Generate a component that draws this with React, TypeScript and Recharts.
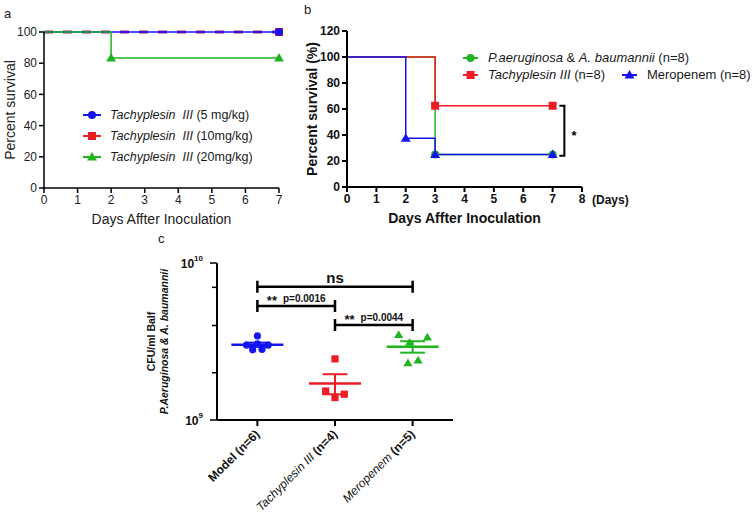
import React from "react"
import {
    Legend,
    Line,
    LineChart,
    ReferenceLine,
    Scatter,
    ScatterChart,
    XAxis,
    YAxis,
} from "recharts"

const FONT = "'Liberation Sans', Arial, Helvetica, sans-serif"
const BLUE = "#1414ee"
const RED = "#ee1c24"
const GREEN = "#21b421"
const PURPLE = "#a3197f"
const INK = "#1a1a1a"

// panel a - dose comparison
const daysA = [0, 1, 2, 3, 4, 5, 6, 7]
const survivalTicksA = [0, 20, 40, 60, 80, 100]
const dose5 = [{ day: 0, pct: 100 }, { day: 7, pct: 100 }]
const dose10 = [{ day: 0, pct: 100 }, { day: 7, pct: 100 }]
const dose20 = [{ day: 0, pct: 100 }, { day: 2, pct: 83.3 }, { day: 7, pct: 83.3 }]
const doseLabels = ["(5 mg/kg)", "(10mg/kg)", "(20mg/kg)"]

// panel b - infection model survival
const daysB = [0, 1, 2, 3, 4, 5, 6, 7, 8]
const survivalTicksB = [0, 20, 40, 60, 80, 100, 120]
const infected = [{ day: 0, pct: 100 }, { day: 3, pct: 25 }, { day: 7, pct: 25 }]
const tachyplesin = [{ day: 0, pct: 100 }, { day: 3, pct: 62.5 }, { day: 7, pct: 62.5 }]
const meropenem = [{ day: 0, pct: 100 }, { day: 2, pct: 37.5 }, { day: 3, pct: 25 }, { day: 7, pct: 25 }]
const miceB = 8
const sigB = { day: 7.4, top: 62.5, bottom: 24, text: "*" }

// panel c - bacterial load (x = jittered group position)
const groupNames = ["Model", "Tachyplesin III", "Meropenem"]
const modelCfu = [
    { x: 1.0, cfu: 3.43e9 },
    { x: 0.94, cfu: 2.8e9 },
    { x: 1.06, cfu: 2.82e9 },
    { x: 0.86, cfu: 3.0e9 },
    { x: 1.14, cfu: 3.0e9 },
    { x: 1.0, cfu: 3.05e9 },
]
const tachyCfu = [
    { x: 2.0, cfu: 2.45e9 },
    { x: 1.88, cfu: 1.53e9 },
    { x: 2.0, cfu: 1.39e9 },
    { x: 2.12, cfu: 1.46e9 },
]
const meroCfu = [
    { x: 2.82, cfu: 3.48e9 },
    { x: 3.19, cfu: 3.36e9 },
    { x: 2.96, cfu: 3.11e9 },
    { x: 2.94, cfu: 2.3e9 },
    { x: 3.07, cfu: 2.4e9 },
]
const cfuTicks = [1e9, 2e9, 3e9, 4e9, 5e9, 6e9, 7e9, 8e9, 9e9, 1e10]
const comparisons = [
    { from: 1, to: 3, cfu: 7.06e9, stars: "", p: "ns" },
    { from: 1, to: 2, cfu: 5.32e9, stars: "**", p: "p=0.0016" },
    { from: 2, to: 3, cfu: 4.03e9, stars: "**", p: "p=0.0044" },
]

type Kind = "circle" | "square" | "triangle"

const Marker = ({ kind, cx, cy, color, r = 4 }: { kind: Kind; cx: number; cy: number; color: string; r?: number }) => {
    if (kind === "circle") return <circle cx={cx} cy={cy} r={r} fill={color} />
    if (kind === "square") return <rect x={cx - r} y={cy - r} width={2 * r} height={2 * r} fill={color} />
    return <polygon points={`${cx},${cy - r - 1} ${cx - r - 1},${cy + r - 0.5} ${cx + r + 1},${cy + r - 0.5}`} fill={color} />
}

// Kaplan-Meier style: no marker at the starting point
const stepDot = (kind: Kind, color: string) => (props: any) => {
    const { cx, cy, index } = props
    if (index === 0 || cx == null || cy == null) return <g key={`d${index}`} />
    return (
        <g key={`d${index}`}>
            <Marker kind={kind} cx={cx} cy={cy} color={color} />
        </g>
    )
}

const LegendKey = ({ kind, color, w }: { kind: Kind; color: string; w: number }) => (
    <svg width={w} height={12} style={{ flex: "none" }}>
        <line x1={1} x2={w - 1} y1={6} y2={6} stroke={color} strokeWidth={2} />
        <Marker kind={kind} cx={w / 2} cy={6} color={color} />
    </svg>
)

const Tachy = ({ gap = " " }: { gap?: string }) => (
    <span style={{ fontStyle: "italic" }}>{`Tachyplesin${gap}III`}</span>
)

const legendA = () => {
    const keys: { kind: Kind; color: string }[] = [
        { kind: "circle", color: BLUE },
        { kind: "square", color: RED },
        { kind: "triangle", color: GREEN },
    ]
    return (
        <div style={{ fontFamily: FONT, fontSize: 12.5, color: INK }}>
            {keys.map((k, i) => (
                <div key={i} style={{ display: "flex", alignItems: "center", height: 21, whiteSpace: "pre" }}>
                    <LegendKey kind={k.kind} color={k.color} w={20} />
                    <span style={{ marginLeft: 8 }}>
                        <Tachy gap={"\u00a0\u00a0"} /> {doseLabels[i]}
                    </span>
                </div>
            ))}
        </div>
    )
}

const legendB = () => (
    <div style={{ fontFamily: FONT, fontSize: 13, color: INK, whiteSpace: "pre" }}>
        <div style={{ display: "flex", alignItems: "center", height: 17 }}>
            <LegendKey kind="circle" color={GREEN} w={17} />
            <span style={{ marginLeft: 9 }}>
                <i>P.aeruginosa</i> &amp; <i>A. baumannii</i> (n={miceB})
            </span>
        </div>
        <div style={{ display: "flex", alignItems: "center", height: 17 }}>
            <LegendKey kind="square" color={RED} w={17} />
            <span style={{ marginLeft: 9 }}>
                <Tachy /> (n={miceB})
            </span>
            <span style={{ marginLeft: 16 }} />
            <LegendKey kind="triangle" color={BLUE} w={17} />
            <span style={{ marginLeft: 9 }}>Meropenem (n={miceB})</span>
        </div>
    </div>
)

const sigBracketB = (p: any) => {
    const { x1, y1, y2 } = p
    return (
        <g>
            <path d={`M${x1 - 5},${y1}H${x1}V${y2}H${x1 - 5}`} stroke="#000" strokeWidth={2} fill="none" />
            <text x={x1 + 7} y={(y1 + y2) / 2 + 9} fontFamily={FONT} fontWeight="bold" fontSize={13} fill="#000">
                {sigB.text}
            </text>
        </g>
    )
}

const titleB = (props: any) => {
    const vb = props.viewBox ?? { x: 47, y: 187, width: 235, height: 38 }
    return (
        <g fontFamily={FONT} fontWeight="bold" fill="#111">
            <text x={vb.x + vb.width / 2} y={vb.y + 36} textAnchor="middle" fontSize={14}>
                Days Affter Inoculation
            </text>
            <text x={vb.x + vb.width + 10} y={vb.y + 17} fontSize={12}>
                (Days)
            </text>
        </g>
    )
}

const PanelA = () => (
    <LineChart width={300} height={230} margin={{ top: 32, right: 21, left: 0, bottom: 6 }}>
        <XAxis
            type="number"
            dataKey="day"
            domain={[0, 7]}
            ticks={daysA}
            height={36}
            tickSize={5}
            stroke="#000"
            strokeWidth={1.5}
            tick={{ fill: "#222", fontSize: 12, fontFamily: FONT }}
            label={{ value: "Days Affter Inoculation", position: "insideBottom", offset: 0, fill: "#222", fontSize: 14, fontFamily: FONT }}
        />
        <YAxis
            type="number"
            dataKey="pct"
            domain={[0, 100]}
            ticks={survivalTicksA}
            width={44}
            tickSize={5}
            stroke="#000"
            strokeWidth={1.5}
            tick={{ fill: "#222", fontSize: 12, fontFamily: FONT }}
            label={{
                value: "Percent survival",
                angle: -90,
                position: "insideLeft",
                offset: 10,
                fill: "#222",
                fontSize: 14,
                fontFamily: FONT,
                style: { textAnchor: "middle" },
            }}
        />
        <Line data={dose10} dataKey="pct" type="stepAfter" stroke={PURPLE} strokeWidth={3} strokeDasharray="9 10"
            dot={stepDot("square", RED)} activeDot={false} isAnimationActive={false} />
        <Line data={dose5} dataKey="pct" type="stepAfter" stroke={BLUE} strokeWidth={1.3}
            dot={stepDot("circle", BLUE)} activeDot={false} isAnimationActive={false} />
        <Line data={dose20} dataKey="pct" type="stepAfter" stroke={GREEN} strokeWidth={1.5}
            dot={stepDot("triangle", GREEN)} activeDot={false} isAnimationActive={false} />
        <Legend layout="horizontal" align="center" verticalAlign="middle" content={legendA}
            wrapperStyle={{ left: 82, top: 104, width: "auto" }} />
    </LineChart>
)

const PanelB = () => (
    <LineChart width={456} height={230} margin={{ top: 31, right: 174, left: 0, bottom: 5 }}>
        <XAxis
            type="number"
            dataKey="day"
            domain={[0, 8]}
            ticks={daysB}
            height={38}
            tickSize={5}
            stroke="#000"
            strokeWidth={2}
            tick={{ fill: "#111", fontSize: 12, fontWeight: "bold", fontFamily: FONT }}
            label={{ content: titleB }}
        />
        <YAxis
            type="number"
            dataKey="pct"
            domain={[0, 120]}
            ticks={survivalTicksB}
            width={47}
            tickSize={5}
            stroke="#000"
            strokeWidth={2}
            tick={{ fill: "#111", fontSize: 12, fontWeight: "bold", fontFamily: FONT }}
            label={{
                value: "Percent survival (%)",
                angle: -90,
                position: "insideLeft",
                offset: 12,
                fill: "#111",
                fontSize: 14,
                fontWeight: "bold",
                fontFamily: FONT,
                style: { textAnchor: "middle" },
            }}
        />
        <Line data={infected} dataKey="pct" type="stepAfter" stroke={GREEN} strokeWidth={1.5}
            dot={stepDot("circle", GREEN)} activeDot={false} isAnimationActive={false} />
        <Line data={tachyplesin} dataKey="pct" type="stepAfter" stroke={RED} strokeWidth={1.5}
            dot={stepDot("square", RED)} activeDot={false} isAnimationActive={false} />
        <Line data={meropenem} dataKey="pct" type="stepAfter" stroke={BLUE} strokeWidth={1.5}
            dot={stepDot("triangle", BLUE)} activeDot={false} isAnimationActive={false} />
        <ReferenceLine segment={[{ x: sigB.day, y: sigB.top }, { x: sigB.day, y: sigB.bottom }]} shape={sigBracketB} />
        <Legend layout="horizontal" align="center" verticalAlign="middle" content={legendB}
            wrapperStyle={{ left: 162, top: 49, width: "auto" }} />
    </LineChart>
)

const meanSem = (vals: number[]) => {
    const m = vals.reduce((a, b) => a + b, 0) / vals.length
    const sd = Math.sqrt(vals.reduce((a, b) => a + (b - m) ** 2, 0) / (vals.length - 1))
    return { mean: m, sem: sd / Math.sqrt(vals.length) }
}

const groupsC = [
    { name: groupNames[0], data: modelCfu, color: BLUE, kind: "circle" as Kind, italic: false },
    { name: groupNames[1], data: tachyCfu, color: RED, kind: "square" as Kind, italic: true },
    { name: groupNames[2], data: meroCfu, color: GREEN, kind: "triangle" as Kind, italic: true },
]

const pointShape = (kind: Kind, color: string) => (props: any) => {
    const { cx, cy } = props
    if (cx == null || cy == null) return <g />
    return <Marker kind={kind} cx={cx} cy={cy} color={color} r={3.6} />
}

const CfuTick = (props: any) => {
    const { x, y, payload } = props
    const lg = Math.log10(payload.value)
    const exp = Math.round(lg)
    const major = Math.abs(lg - exp) < 1e-6
    return (
        <g>
            <line x1={x} x2={x - (major ? 7 : 5)} y1={y} y2={y} stroke="#000" strokeWidth={1.5} />
            {major && (
                <text x={x - 14} y={y + 5} textAnchor="end" fontFamily={FONT} fontWeight="bold" fontSize={12} fill="#111">
                    <tspan>10</tspan>
                    <tspan dy={-7} fontSize={8}>{exp}</tspan>
                </text>
            )}
        </g>
    )
}

const GroupTick = (props: any) => {
    const { x, y, payload } = props
    const g = groupsC[Math.round(payload.value) - 1]
    if (!g) return <g />
    return (
        <text transform={`translate(${x + 3},${y + 7}) rotate(-45)`} textAnchor="end" fontFamily={FONT} fontSize={12} fill="#111">
            <tspan fontWeight={g.italic ? "normal" : "bold"} fontStyle={g.italic ? "italic" : "normal"}>{g.name}</tspan>
            <tspan fontWeight="bold">{` (n=${g.data.length})`}</tspan>
        </text>
    )
}

const cfuTitle = (props: any) => {
    const vb = props.viewBox ?? { x: 0, y: 33, width: 77, height: 157 }
    const cy = vb.y + vb.height / 2
    return (
        <g fontFamily={FONT} fontWeight="bold" fill="#111" fontSize={10.5}>
            <text x={vb.x + 11} y={cy} transform={`rotate(-90, ${vb.x + 11}, ${cy})`} textAnchor="middle" dominantBaseline="central">
                CFU/ml Balf
            </text>
            <text x={vb.x + 24} y={cy} transform={`rotate(-90, ${vb.x + 24}, ${cy})`} textAnchor="middle" dominantBaseline="central" fontStyle="italic">
                P.Aeruginosa &amp; A. baumannii
            </text>
        </g>
    )
}

const bracketC = (c: (typeof comparisons)[number]) => (p: any) => {
    const { x1, x2, y1 } = p
    return (
        <g>
            <path d={`M${x1},${y1 - 6}V${y1 + 6}M${x1},${y1}H${x2}M${x2},${y1 - 6}V${y1 + 6}`} stroke="#000" strokeWidth={2.5} fill="none" />
            <text x={(x1 + x2) / 2} y={y1 - 4} textAnchor="middle" fontFamily={FONT} fontWeight="bold" fill="#111">
                {c.stars ? (
                    <>
                        <tspan fontSize={13} dy={3}>{c.stars}</tspan>
                        <tspan fontSize={10} dx={6} dy={-3}>{c.p}</tspan>
                    </>
                ) : (
                    <tspan fontSize={15}>{c.p}</tspan>
                )}
            </text>
        </g>
    )
}

const MEAN_HALF = 0.335
const CAP_HALF = 0.16

const PanelC = () => (
    <ScatterChart width={330} height={283} margin={{ top: 33, right: 17, left: 0, bottom: 0 }}>
        <XAxis
            type="number"
            dataKey="x"
            domain={[0.48, 3.52]}
            ticks={[1, 2, 3]}
            height={93}
            tickSize={6}
            stroke="#000"
            strokeWidth={2}
            tick={GroupTick}
        />
        <YAxis
            type="number"
            dataKey="cfu"
            scale="log"
            domain={[1e9, 1e10]}
            ticks={cfuTicks}
            allowDataOverflow
            width={77}
            tickSize={0}
            tickMargin={0}
            tickLine={false}
            stroke="#000"
            strokeWidth={2}
            tick={CfuTick}
            label={{ content: cfuTitle }}
        />
        {groupsC.map((g) => (
            <Scatter key={g.name} data={g.data} fill={g.color} shape={pointShape(g.kind, g.color)} isAnimationActive={false} />
        ))}
        {groupsC.map((g, i) => {
            const { mean, sem } = meanSem(g.data.map((d) => d.cfu))
            const pos = i + 1
            return [
                <ReferenceLine key={`m${i}`} segment={[{ x: pos - MEAN_HALF, y: mean }, { x: pos + MEAN_HALF, y: mean }]} stroke={g.color} strokeWidth={2.5} />,
                <ReferenceLine key={`s${i}`} segment={[{ x: pos, y: mean - sem }, { x: pos, y: mean + sem }]} stroke={g.color} strokeWidth={2} />,
                <ReferenceLine key={`u${i}`} segment={[{ x: pos - CAP_HALF, y: mean + sem }, { x: pos + CAP_HALF, y: mean + sem }]} stroke={g.color} strokeWidth={2} />,
                <ReferenceLine key={`l${i}`} segment={[{ x: pos - CAP_HALF, y: mean - sem }, { x: pos + CAP_HALF, y: mean - sem }]} stroke={g.color} strokeWidth={2} />,
            ]
        })}
        {comparisons.map((c, i) => (
            <ReferenceLine key={`c${i}`} segment={[{ x: c.from, y: c.cfu }, { x: c.to, y: c.cfu }]} shape={bracketC(c)} />
        ))}
    </ScatterChart>
)

const panelLetter = (left: number, top: number): React.CSSProperties => ({
    position: "absolute",
    left,
    top,
    fontSize: 13,
    fontFamily: FONT,
    color: INK,
})

export default function App() {
    return (
        <div style={{ position: "absolute", left: 0, top: 0, width: 756, height: 513, background: "#fff", overflow: "hidden", fontFamily: FONT }}>
            <div style={panelLetter(4, 6)}>a</div>
            <div style={panelLetter(304, 2)}>b</div>
            <div style={panelLetter(158, 231)}>c</div>
            <div style={{ position: "absolute", left: 0, top: 0 }}>
                <PanelA />
            </div>
            <div style={{ position: "absolute", left: 300, top: 0 }}>
                <PanelB />
            </div>
            <div style={{ position: "absolute", left: 140, top: 230 }}>
                <PanelC />
            </div>
        </div>
    )
}
